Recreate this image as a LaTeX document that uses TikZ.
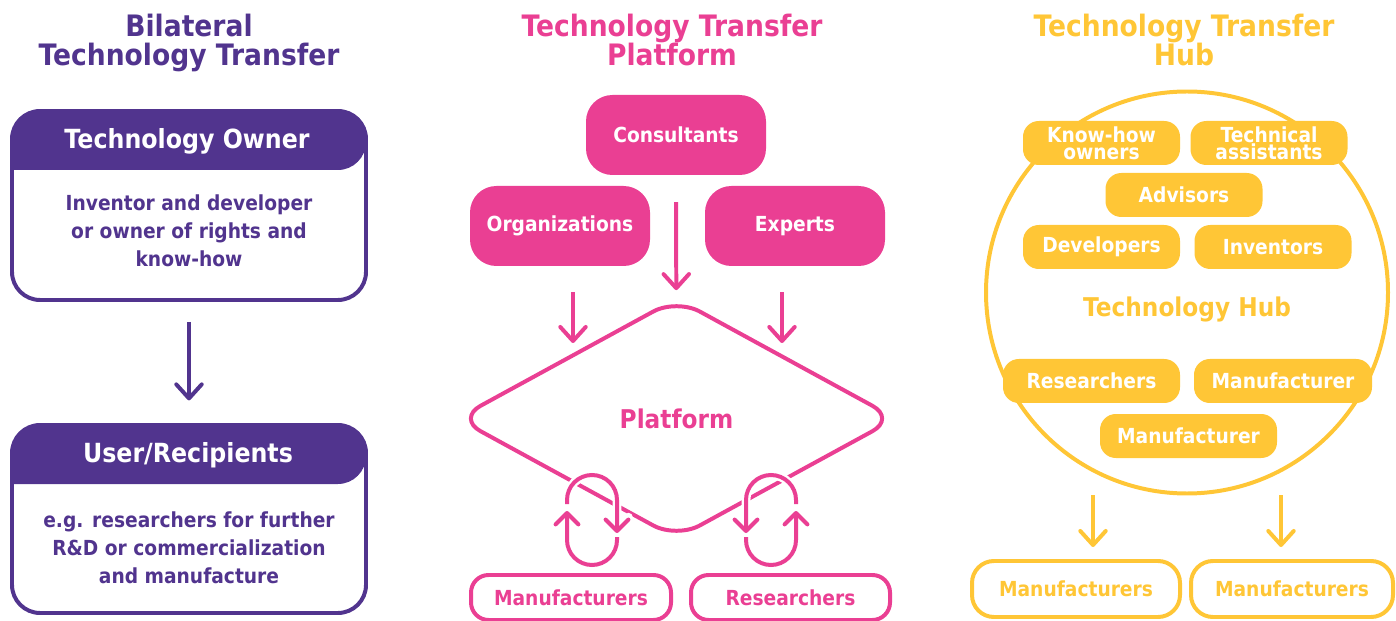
\documentclass[tikz,border=0pt]{standalone}
\usepackage{fontspec}
\setmainfont{DejaVu Sans}[FakeStretch=0.9]
\usepackage{xcolor}
\usetikzlibrary{arrows.meta}
\usetikzlibrary{shapes.geometric}
\definecolor{vio}{HTML}{51348E}
\definecolor{rosa}{HTML}{EA3F93}
\definecolor{oro}{HTML}{FFC636}
\newcommand*{\upx}{0.02cm}
\tikzset{
  ttl/.style={font=\fontsize{16.8}{16.5}\selectfont\bfseries,align=center},
  hdr/.style={text=white,font=\fontsize{15}{18}\selectfont\bfseries},
  txt/.style={font=\fontsize{11.8}{15.9}\selectfont\bfseries,align=center},
  big/.style={font=\fontsize{14.7}{17}\selectfont\bfseries},
  obox/.style={draw=vio,line width=2.27pt,outer sep=0pt,rounded corners=16pt,minimum width=354*\upx,minimum height=189*\upx},
  ppill/.style={txt,fill=rosa,text=white,rounded corners=15pt,minimum width=180*\upx,minimum height=80*\upx},
  pbox/.style={txt,draw=rosa,text=rosa,line width=2.27pt,rounded corners=10pt,minimum width=200*\upx,minimum height=45*\upx},
  plat/.style={big,diamond,draw=rosa,text=rosa,line width=2.27pt,rounded corners=15pt,inner sep=0pt,minimum width=440*\upx,minimum height=241*\upx},
  ypill/.style={font=\fontsize{11.8}{9.7}\selectfont\bfseries,align=center,fill=oro,text=white,rounded corners=9pt,inner sep=0pt,minimum width=157*\upx,minimum height=44*\upx},
  ybox/.style={txt,draw=oro,text=oro,line width=2.27pt,rounded corners=12.5pt,minimum width=208*\upx,minimum height=56*\upx},
  arr/.style={line width=2.27pt,-{Straight Barb[round,length=8pt,width=14.5pt]}},
  lp/.style={rosa,line width=2.27pt,-{Straight Barb[round,length=6.5pt,width=13pt]},preaction={draw=white,line width=5pt}}
}
\begin{document}
\begin{tikzpicture}[x=0.02cm,y=-0.02cm]
\useasboundingbox (0,0) rectangle (1396,621);

% titles
\node[ttl,text=vio] (t1) at (189,43) {Bilateral\\Technology Transfer};
\node[ttl,text=rosa] (t2) at (672,40) {Technology Transfer\\Platform};
\node[ttl,text=oro] (t3) at (1184,40) {Technology Transfer\\Hub};

% bilateral
\node[obox] (own) at (189,205.5) {};
\fill[vio] (own.west |- 0,170) [rounded corners=16pt] |- (own.north) -| (own.east |- 0,170) [sharp corners] -- cycle;
\node[hdr] (ownh) at (187,141) {Technology Owner};
\node[txt,text=vio] (ownb) at (189,231) {Inventor and developer\\or owner of rights and\\know-how};

\node[obox,minimum height=188*\upx] (usr) at (189,519) {};
\fill[vio] (usr.west |- 0,484) [rounded corners=16pt] |- (usr.north) -| (usr.east |- 0,484) [sharp corners] -- cycle;
\node[hdr] (usrh) at (188,455) {User/Recipients};
\node[txt,text=vio] (usrb) at (189,547.5) {e.g. researchers for further\\R\&D or commercialization\\and manufacture};

\draw[arr,vio,shorten <=12.5pt,shorten >=14pt] (own) -- (usr);

% platform
\node[ppill] (cons) at (676,135) {Consultants};
\node[ppill] (org) at (560,226) {Organizations};
\node[ppill] (exp) at (795,226) {Experts};
\node[plat] (plat) at (676.5,418.5) {Platform};

\coordinate (pl) at (573,343);
\coordinate (pr) at (782,343);
\draw[arr,rosa,shorten <=15.3pt,shorten >=3.4pt] (cons) -- (plat);
\draw[arr,rosa,shorten <=14.7pt] (org.south -| pl) -- (pl);
\draw[arr,rosa,shorten <=14.7pt] (exp.south -| pr) -- (pr);

% loops
\coordinate (lpl) at (592,520);
\coordinate (lpr) at (771,520);
\draw[lp,shift={(lpl)}] (25,17) -- (25,20) arc[start angle=0,end angle=180,radius=25] -- (-25,-9);
\draw[lp,shift={(lpl)}] (-25,-16) -- (-25,-20) arc[start angle=180,end angle=360,radius=25] -- (25,13);
\draw[lp,shift={(lpr)}] (25,-16) -- (25,-20) arc[start angle=0,end angle=-180,radius=25] -- (-25,13);
\draw[lp,shift={(lpr)}] (-25,17) -- (-25,20) arc[start angle=180,end angle=0,radius=25] -- (25,-9);

\node[pbox] (manu) at (571,597.5) {Manufacturers};
\node[pbox,minimum width=199*\upx] (resr) at (790.5,597.5) {Researchers};

% hub
\node[circle,draw=oro,line width=2.27pt,inner sep=0pt,minimum size=402*\upx] (hub) at (1187,292.5) {};
\node[ypill] (know) at (1101.5,143) {Know-how\\owners};
\node[ypill] (tech) at (1269,143) {Technical\\assistants};
\node[ypill] (adv) at (1184,195) {Advisors};
\node[ypill] (dev) at (1101.5,247) {Developers};
\node[ypill] (inv) at (1273,247) {Inventors};
\node[big,text=oro] (hubt) at (1187,309) {Technology Hub};
\node[ypill,minimum width=177*\upx] (res) at (1091.5,381) {Researchers};
\node[ypill,minimum width=178*\upx] (man1) at (1283,381) {Manufacturer};
\node[ypill,minimum width=177*\upx] (man2) at (1188.5,436) {Manufacturer};

\coordinate (ya) at (1093,547);
\coordinate (yb) at (1281,547);
\draw[arr,oro] (hub.south -| ya) -- (ya);
\draw[arr,oro] (hub.south -| yb) -- (yb);

\node[ybox] (ym1) at (1076,589) {Manufacturers};
\node[ybox,minimum width=202*\upx] (ym2) at (1292,589) {Manufacturers};

\end{tikzpicture}
\end{document}
